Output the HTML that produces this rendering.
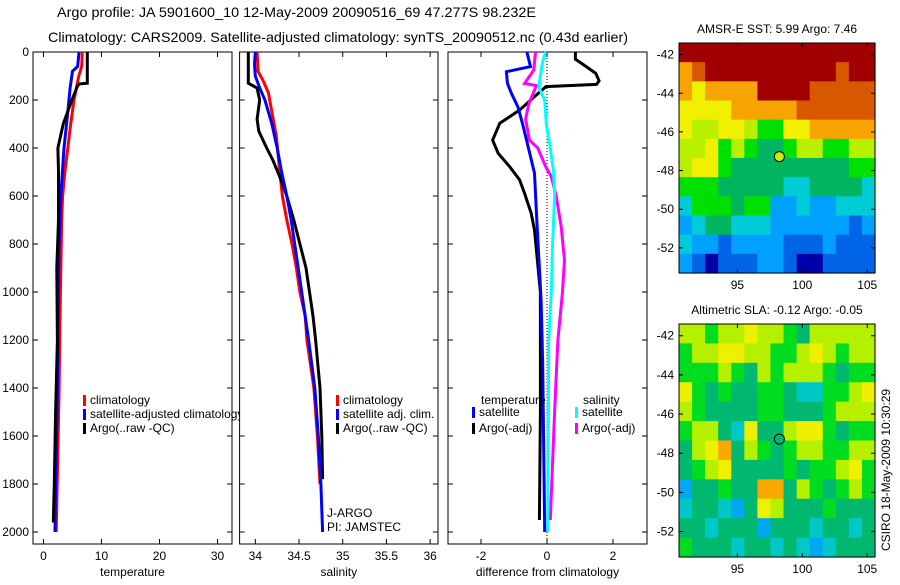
<!DOCTYPE html>
<html><head><meta charset="utf-8"><style>
body{margin:0;background:#fff;}
svg text{font-family:"Liberation Sans",sans-serif;font-size:12px;fill:#000;}
</style></head><body>
<svg id="fig" width="900" height="580" viewBox="0 0 900 580" xmlns="http://www.w3.org/2000/svg">
<text x="57" y="17" textLength="479" lengthAdjust="spacingAndGlyphs" style="font-size:14px">Argo profile: JA 5901600_10 12-May-2009 20090516_69 47.277S 98.232E</text>
<text x="48" y="42" textLength="580" lengthAdjust="spacingAndGlyphs" style="font-size:14px">Climatology: CARS2009. Satellite-adjusted climatology: synTS_20090512.nc (0.43d earlier)</text>
<g id="g"></g>
</svg>
<script>
// ---- data ----
const tempDepthArgo=[0,130,133,140,200,300,400,500,700,900,1200,1500,1800,1960];
const tempArgo=[7.56,7.56,6.2,5.9,4.9,3.4,2.5,2.6,2.6,2.3,2.4,2.1,1.87,1.7];
const tempDepthClim=[0,60,100,200,300,400,500,600,700,900,1100,1400,1700,2000];
const tempClim=[6.7,6.6,6.1,5.27,4.7,4.2,3.7,3.3,3.15,3.0,2.85,2.7,2.45,2.2];
const tempDepthSat=[0,60,80,150,250,400,600,800,1000,1500,1800,2000];
const tempSat=[6.13,5.9,5.0,4.6,4.2,3.55,3.0,2.7,2.55,2.35,2.1,1.99];
const salDepthArgo=[0,130,150,200,280,330,400,450,520,600,700,800,900,1000,1100,1200,1400,1600,1780];
const salArgo=[33.92,33.92,34.02,34.05,34.02,34.04,34.13,34.2,34.28,34.36,34.44,34.51,34.58,34.62,34.66,34.69,34.74,34.76,34.77];
const salDepthClim=[0,80,120,170,250,350,500,600,700,800,900,1000,1100,1200,1400,1600,1800];
const salClim=[34.02,34.03,34.09,34.15,34.19,34.24,34.28,34.31,34.36,34.42,34.47,34.51,34.57,34.59,34.67,34.71,34.74];
const salDepthSat=[0,50,100,150,200,300,400,500,600,700,800,900,1000,1100,1200,1400,1600,1800,2000];
const salSat=[34.0,33.99,34.0,34.05,34.11,34.19,34.25,34.3,34.36,34.41,34.45,34.49,34.53,34.57,34.61,34.68,34.72,34.75,34.77];
const dTempArgoDepth=[0,30,60,89,120,135,144,186,242,297,367,422,478,533,589,672,742,1000,1500,1950];
const dTempArgo=[0.86,0.86,1.18,1.48,1.58,1.5,-0.03,-0.38,-0.83,-1.43,-1.65,-1.48,-1.13,-0.83,-0.68,-0.48,-0.38,-0.2,-0.2,-0.23];
const dTempSatDepth=[0,61,82,130,172,230,300,408,505,700,1033,1300,2000];
const dTempSat=[-0.61,-0.5,-1.23,-1.2,-1.08,-0.88,-0.74,-0.55,-0.38,-0.31,-0.18,-0.13,-0.07];
const dSalSatDepth=[0,40,117,150,200,300,400,500,600,800,1000,1200,2000];
const dSalSat=[-0.04,-0.13,-0.22,-0.24,-0.07,-0.02,0.1,0.2,0.23,0.17,0.13,0.05,0.02];
const dSalArgoDepth=[0,75,131,140,215,280,367,400,478,519,600,728,867,1000,1200,1500,1950];
const dSalArgo=[-0.35,-0.4,-0.68,-0.32,-0.55,-0.65,-0.53,-0.28,-0.04,0.13,0.28,0.43,0.53,0.47,0.33,0.23,0.1];
const depthTicks=[0,200,400,600,800,1000,1200,1400,1600,1800,2000];
const tempTicks=[0,10,20,30];
const salTicks=[34,34.5,35,35.5,36];
const salTickLabels=["34","34.5","35","35.5","36"];
const diffTicks=[-2,0,2];
const lonTicks=[95,100,105];
const latTicks=[-42,-44,-46,-48,-50,-52];
const sstGrid=[
[9,9,9,9,9,9,9,9,9,9,9,9,9,9,9],
[7,8,9,9,9,9,9,9,9,9,9,9,8,9,9],
[7,6,7,7,7,7,9,9,9,9,8,8,8,8,8],
[6,6,6,6,7,7,7,7,7,8,8,8,8,8,8],
[6,5,5,6,6,5,4,4,6,6,7,7,7,7,7],
[5,5,6,4,5,4,3,3,4,5,5,4,4,5,5],
[5,6,6,4,3,3,3,3,3,3,3,3,3,4,4],
[4,4,4,3,3,3,3,3,2,2,3,3,3,3,2],
[2,4,4,4,3,4,4,1,1,2,1,1,2,2,2],
[1,2,3,3,2,2,2,1,1,1,1,1,1,0,1],
[2,1,1,0,1,1,1,1,0,0,0,1,0,0,0],
[1,0,-1,0,0,0,1,1,0,-1,-1,0,0,0,0]];
const slaGrid=[
[5,5,4,5,5,6,5,5,4,3,5,5,5,5,5],
[4,5,5,6,6,5,5,4,4,5,6,5,4,5,5],
[4,4,4,5,4,3,5,4,5,5,5,4,3,4,4],
[6,4,3,4,3,3,4,4,3,2,2,4,4,5,6],
[5,4,3,3,3,3,4,4,3,3,3,4,5,5,5],
[4,5,5,3,2,6,3,3,5,6,6,4,3,4,4],
[3,5,6,7,3,5,4,3,4,5,5,4,4,5,5],
[3,4,5,6,3,3,3,3,4,3,4,4,5,6,4],
[1,3,3,4,3,3,7,7,3,5,4,3,4,5,4],
[2,3,3,2,1,3,6,5,3,3,3,4,3,3,3],
[3,3,2,3,3,3,1,3,3,3,2,3,3,2,3],
[4,3,3,3,2,3,3,2,3,2,1,2,3,3,3]];
const floatLon=98.232, floatLat=-47.277;
// ---- drawing ----
const NS="http://www.w3.org/2000/svg";
const G=document.getElementById('g');
function mk(t,a,p){const e=document.createElementNS(NS,t);for(const k in a)e.setAttribute(k,a[k]);(p||G).appendChild(e);return e;}
const yD=d=>52+d*0.24;
const Y0=52,Y1=544;
const panels=[
 {x0:33,x1:232,v0:-1.8,v1:32.5,name:'temperature'},
 {x0:239.6,x1:438,v0:33.82,v1:36.09,name:'salinity'},
 {x0:448,x1:647,v0:-3.0,v1:3.03,name:'difference'}];
const sx=(p,v)=>p.x0+(v-p.v0)/(p.v1-p.v0)*(p.x1-p.x0);
function frame(p,ticks,labels,xlabel,showY){
  const r=mk('rect',{x:p.x0,y:Y0,width:p.x1-p.x0,height:Y1-Y0,fill:'none',stroke:'#000','stroke-width':1});
  
  
  ticks.forEach((t,i)=>{const x=sx(p,t);
    mk('line',{x1:x,x2:x,y1:Y1,y2:Y1-5,stroke:'#000'});mk('line',{x1:x,x2:x,y1:Y0,y2:Y0+5,stroke:'#000'});
    const tx=mk('text',{x:x,y:Y1+16,'text-anchor':'middle'});tx.textContent=labels[i];
    
    });
  depthTicks.forEach(d=>{const y=yD(d);
    mk('line',{x1:p.x0,x2:p.x0+5,y1:y,y2:y,stroke:'#000'});mk('line',{x1:p.x1,x2:p.x1-5,y1:y,y2:y,stroke:'#000'});
    if(showY){const t=mk('text',{x:p.x0-4,y:y+4,'text-anchor':'end'});t.textContent=d;
      
      }});
  const xl=mk('text',{x:(p.x0+p.x1)/2,y:Y1+32,'text-anchor':'middle'});xl.textContent=xlabel;
  
  
}
frame(panels[0],tempTicks,tempTicks.map(String),'temperature',true);
frame(panels[1],salTicks,salTickLabels,'salinity',false);
frame(panels[2],diffTicks,diffTicks.map(String),'difference from climatology',false);
mk('line',{x1:sx(panels[2],0),x2:sx(panels[2],0),y1:Y0,y2:Y1,stroke:'#000','stroke-dasharray':'1,2'});
function series(p,ds,vs,col,name){
  const pts=ds.map((d,i)=>sx(p,vs[i]).toFixed(1)+','+yD(d).toFixed(1)).join(' ');
  const l=mk('polyline',{points:pts,fill:'none',stroke:col,'stroke-width':3});
  
  
}
series(panels[0],tempDepthClim,tempClim,'#f00','temp-climatology-line');
series(panels[0],tempDepthSat,tempSat,'#00f','temp-satellite-line');
series(panels[0],tempDepthArgo,tempArgo,'#000','temp-argo-line');
series(panels[1],salDepthClim,salClim,'#f00','sal-climatology-line');
series(panels[1],salDepthArgo,salArgo,'#000','sal-argo-line');
series(panels[1],salDepthSat,salSat,'#00f','sal-satellite-line');
series(panels[2],dTempArgoDepth,dTempArgo,'#000','diff-temp-argo-line');
series(panels[2],dSalArgoDepth,dSalArgo,'#f0f','diff-sal-argo-line');
series(panels[2],dSalSatDepth,dSalSat,'#0ff','diff-sal-satellite-line');
series(panels[2],dTempSatDepth,dTempSat,'#00f','diff-temp-satellite-line');
function legend(x,y,col,txt,clip){
  const b=mk('rect',{x:x,y:y-9,width:3,height:11,fill:col});
  
  
  const t=mk('text',{x:x+7,y:y});t.textContent=txt;
  if(clip)t.setAttribute('clip-path','url(#c1)');
  
  
}
const defs=mk('defs',{});const cp=mk('clipPath',{id:'c1'},defs);mk('rect',{x:0,y:0,width:240,height:580},cp);
legend(83,404,'#f00','climatology');legend(83,418,'#00f','satellite-adjusted climatology',true);legend(83,432,'#000','Argo(..raw -QC)');
legend(336,404,'#f00','climatology');legend(336,418,'#00f','satellite adj. clim.');legend(336,432,'#000','Argo(..raw -QC)');
let t=mk('text',{x:327,y:517});t.textContent='J-ARGO';


t=mk('text',{x:327,y:531});t.textContent='PI: JAMSTEC';


t=mk('text',{x:481,y:404});t.textContent='temperature';


t=mk('text',{x:583,y:404});t.textContent='salinity';


legend(472,416,'#00f','satellite');legend(472,432,'#000','Argo(-adj)');
legend(575,416,'#0ff','satellite');legend(575,432,'#f0f','Argo(-adj)');
// maps
const jet={'-1':'#0000a8','0':'#0064e6','1':'#00a0ff','2':'#00ccd8','3':'#00b460','4':'#00e000','5':'#b8f000','6':'#f0f000','7':'#f8a400','8':'#d85800','9':'#a00000'};
const slaCol={'1':'#00a8f0','2':'#00c8c8','3':'#00b870','4':'#00dc20','5':'#b4f000','6':'#eef000','7':'#f8a800'};
function map(y0,y1,grid,cols,title,name){
  const x0=679,x1=875,lo0=90.5,lo1=105.6,la0=-41.4,la1=-53.3;
  const lx=v=>x0+(v-lo0)/(lo1-lo0)*(x1-x0), ly=v=>y0+(v-la0)/(la1-la0)*(y1-y0);
  const nr=grid.length,nc=grid[0].length,cw=(x1-x0)/nc,ch=(y1-y0)/nr;
  grid.forEach((row,i)=>row.forEach((v,j)=>{
    const c=mk('rect',{x:x0+j*cw,y:y0+i*ch,width:cw+0.6,height:ch+0.6,fill:cols[v]});
    
    
  }));
  mk('rect',{x:x0,y:y0,width:x1-x0,height:y1-y0,fill:'none',stroke:'#000'});
  lonTicks.forEach(v=>{const x=lx(v);mk('line',{x1:x,x2:x,y1:y1,y2:y1-4,stroke:'#000'});mk('line',{x1:x,x2:x,y1:y0,y2:y0+4,stroke:'#000'});
    const tt=mk('text',{x:x,y:y1+16,'text-anchor':'middle'});tt.textContent=v;
    
    });
  latTicks.forEach(v=>{const y=ly(v);mk('line',{x1:x0,x2:x0+4,y1:y,y2:y,stroke:'#000'});mk('line',{x1:x1,x2:x1-4,y1:y,y2:y,stroke:'#000'});
    const tt=mk('text',{x:x0-5,y:y+4,'text-anchor':'end'});tt.textContent=v;
    
    });
  const tt=mk('text',{x:(x0+x1)/2,y:y0-10,'text-anchor':'middle'});tt.textContent=title;
  
  
  return [lx(floatLon),ly(floatLat)];
}
let p=map(43,273,sstGrid,jet,'AMSR-E SST: 5.99 Argo: 7.46','sst-map');
let c=mk('circle',{cx:p[0],cy:p[1],r:5,fill:'#c8f000',stroke:'#000'});


p=map(324,557,slaGrid,slaCol,'Altimetric SLA: -0.12 Argo: -0.05','sla-map');
c=mk('circle',{cx:p[0],cy:p[1],r:5,fill:'#00b870',stroke:'#000'});


t=mk('text',{x:0,y:0,transform:'translate(890,470) rotate(-90)','text-anchor':'middle'});t.textContent='CSIRO 18-May-2009 10:30:29';


</script>
</body></html>
